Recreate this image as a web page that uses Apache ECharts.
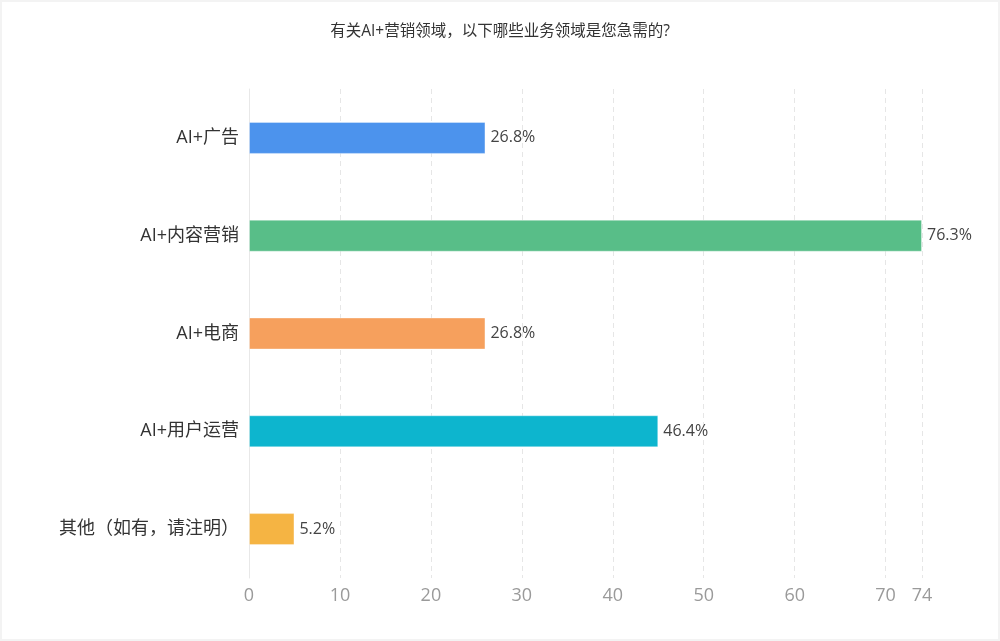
<!DOCTYPE html>
<html>
<head>
<meta charset="utf-8">
<script src="https://cdn.jsdelivr.net/npm/echarts@6/dist/echarts.min.js"></script>
<style>
  html, body { margin: 0; padding: 0; background: #fff; }
  #chart { width: 996px; height: 637px; border: 2px solid #f3f3f3; }
</style>
</head>
<body>
<div id="chart"></div>
<script>
// 选项
const categories = ['AI+广告', 'AI+内容营销', 'AI+电商', 'AI+用户运营', '其他（如有，请注明）']
// 选择人数（条形长度）
const counts = [26, 74, 26, 45, 5]
// 占比标签
const percents = ['26.8%', '76.3%', '26.8%', '46.4%', '5.2%']
const colors = ['#4c93ed', '#58be88', '#f6a05d', '#0db5ce', '#f5b443']

const font = "'Open Sans', 'Noto Sans CJK SC', sans-serif"

const chart = echarts.init(document.getElementById('chart'))

const option = {
  title: {
    text: '有关AI+营销领域，以下哪些业务领域是您急需的?',
    left: 'center',
    top: 17,
    textStyle: { fontSize: 15.5, fontWeight: 'normal', color: '#333', fontFamily: font }
  },
  grid: { left: 247, right: 76, top: 87, bottom: 61 },
  xAxis: {
    type: 'value',
    min: 0,
    max: 74,
    interval: 10,
    axisLine: { show: false },
    axisTick: { show: false },
    axisLabel: { fontSize: 18, color: '#9a9a9a', margin: 9, fontFamily: font },
    splitLine: { show: true, lineStyle: { type: [5, 4], color: '#e6e6e6' } }
  },
  yAxis: {
    type: 'category',
    inverse: true,
    data: categories,
    axisLine: { show: true, lineStyle: { color: '#e8e8e8' } },
    axisTick: { show: false },
    axisLabel: { fontSize: 18, color: '#333', margin: 10, fontFamily: font }
  },
  series: [{
    type: 'bar',
    barWidth: 32,
    data: counts.map((v, i) => ({
      value: v,
      itemStyle: { color: colors[i], borderColor: 'rgba(255,255,255,0.35)', borderWidth: 1 }
    })),
    label: {
      show: true,
      position: 'right',
      distance: 5,
      fontSize: 16,
      color: '#444',
      fontFamily: font,
      formatter: (p) => percents[p.dataIndex]
    }
  }]
}

chart.setOption(option)
</script>
</body>
</html>
